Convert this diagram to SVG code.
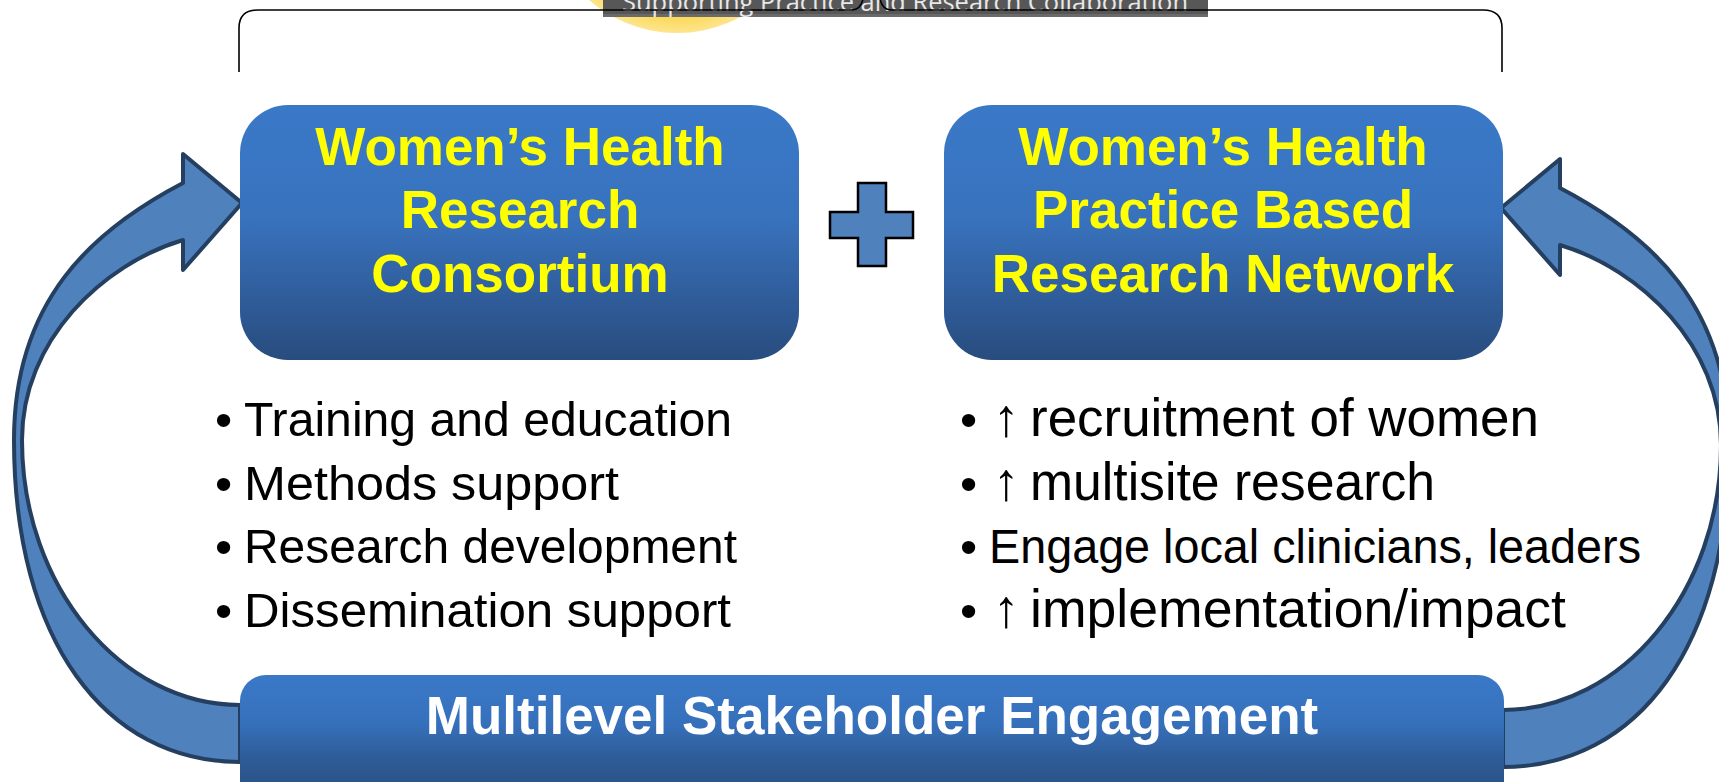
<svg xmlns="http://www.w3.org/2000/svg" width="1719" height="782" viewBox="0 0 1719 782">
  <defs>
    <linearGradient id="boxFill" x1="0" y1="0" x2="0" y2="1">
      <stop offset="0" stop-color="#3a79c8"/>
      <stop offset="0.45" stop-color="#3872bd"/>
      <stop offset="1" stop-color="#284c7e"/>
    </linearGradient>
    <linearGradient id="barFill" x1="0" y1="0" x2="0" y2="1">
      <stop offset="0" stop-color="#3a79c8"/>
      <stop offset="0.35" stop-color="#3670bb"/>
      <stop offset="0.6" stop-color="#2e5b96"/>
      <stop offset="1" stop-color="#284a7c"/>
    </linearGradient>
    <radialGradient id="sunFill" cx="0.5" cy="0.5" r="0.5">
      <stop offset="0.85" stop-color="#fbd54a"/>
      <stop offset="1" stop-color="#fde58e"/>
    </radialGradient>
    <!-- curved loop arrow: tail at the bottom bar, head pointing right into a box -->
    <path id="loopArrow" d="M 240,762 C 105,762 14,640 14,440 C 14,300 93,230 183,183 L 183,154 L 242,203 L 183,270 L 183,240 C 103,264 22,340 22,440 C 22,586 121,705 240,705 Z"/>
  </defs>
  <style>
    .arrow { fill: #4f81bd; stroke: #243f60; stroke-width: 4; stroke-linejoin: round; }
    .box { fill: url(#boxFill); }
    .title { font-family: "Liberation Sans", Arial, sans-serif; font-weight: bold; font-size: 53px; fill: #ffff00; text-anchor: middle; }
    .bar-label { font-family: "Liberation Sans", Arial, sans-serif; font-weight: bold; font-size: 53px; fill: #ffffff; text-anchor: middle; }
    .item { font-family: "Liberation Sans", Arial, sans-serif; font-size: 49px; fill: #000000; }
    .item-r { font-family: "Liberation Sans", Arial, sans-serif; font-size: 53px; fill: #000000; }
    .brace { fill: none; stroke: #000000; stroke-width: 1.6; }
  </style>

  <rect width="1719" height="782" fill="#ffffff"/>

  <!-- header: partly hidden sun, banner and bracket -->
  <g id="header">
    <circle cx="677" cy="-101" r="134" fill="url(#sunFill)"/>
    <rect x="603" y="-10" width="605" height="27" fill="#575757"/>
    <rect x="603" y="14" width="605" height="3" fill="#6a6a6a"/>
    <text x="622" y="11" font-family="'Open Sans', 'DejaVu Sans', sans-serif" font-size="25" fill="#e8e8e8" textLength="566" lengthAdjust="spacingAndGlyphs">Supporting Practice and Research Collaboration</text>
    <path class="brace" d="M 239,72 L 239,28 Q 239,10 258,10 L 852,10 Q 862,10 864,-6 M 879,-6 Q 881,10 891,10 L 1483,10 Q 1502,10 1502,28 L 1502,72"/>
  </g>

  <!-- connectors -->
  <g id="connectors">
    <use href="#loopArrow" class="arrow"/>
    <use href="#loopArrow" class="arrow" transform="translate(1743,5) scale(-1,1)"/>
  </g>

  <g id="consortium">
    <rect class="box" x="240" y="105" width="559" height="255" rx="48" ry="48"/>
    <text class="title" x="520" y="165">Women’s Health</text>
    <text class="title" x="520" y="228">Research</text>
    <text class="title" x="520" y="292">Consortium</text>
  </g>

  <g id="plus">
    <path d="M 858,183 L 886,183 L 886,212 L 913,212 L 913,238 L 886,238 L 886,266 L 858,266 L 858,238 L 830,238 L 830,212 L 858,212 Z" fill="#4f81bd" stroke="#000000" stroke-width="2.5" stroke-linejoin="miter"/>
  </g>

  <g id="pbrn">
    <rect class="box" x="944" y="105" width="559" height="255" rx="48" ry="48"/>
    <text class="title" x="1223" y="165">Women’s Health</text>
    <text class="title" x="1223" y="228">Practice Based</text>
    <text class="title" x="1223" y="292">Research Network</text>
  </g>

  <g id="consortium-items">
    <text class="item" x="215" y="436">•</text>
    <text class="item" x="244" y="436" textLength="488" lengthAdjust="spacingAndGlyphs">Training and education</text>
    <text class="item" x="215" y="500">•</text>
    <text class="item" x="244" y="500" textLength="375" lengthAdjust="spacingAndGlyphs">Methods support</text>
    <text class="item" x="215" y="563">•</text>
    <text class="item" x="244" y="563" textLength="493" lengthAdjust="spacingAndGlyphs">Research development</text>
    <text class="item" x="215" y="627">•</text>
    <text class="item" x="244" y="627" textLength="487" lengthAdjust="spacingAndGlyphs">Dissemination support</text>
  </g>

  <g id="pbrn-items">
    <text class="item" x="960" y="436">•</text>
    <text class="item-r" x="993" y="436">↑</text>
    <text class="item-r" x="1030" y="436" textLength="509" lengthAdjust="spacingAndGlyphs">recruitment of women</text>
    <text class="item" x="960" y="500">•</text>
    <text class="item-r" x="993" y="500">↑</text>
    <text class="item-r" x="1030" y="500" textLength="405" lengthAdjust="spacingAndGlyphs">multisite research</text>
    <text class="item" x="960" y="563">•</text>
    <text class="item" x="989" y="563" textLength="652" lengthAdjust="spacingAndGlyphs">Engage local clinicians, leaders</text>
    <text class="item" x="960" y="627">•</text>
    <text class="item-r" x="993" y="627">↑</text>
    <text class="item-r" x="1030" y="627" textLength="536" lengthAdjust="spacingAndGlyphs">implementation/impact</text>
  </g>

  <g id="engagement">
    <rect x="240" y="675" width="1264" height="140" rx="26" ry="26" fill="url(#barFill)"/>
    <text class="bar-label" x="872" y="734">Multilevel Stakeholder Engagement</text>
  </g>
</svg>
